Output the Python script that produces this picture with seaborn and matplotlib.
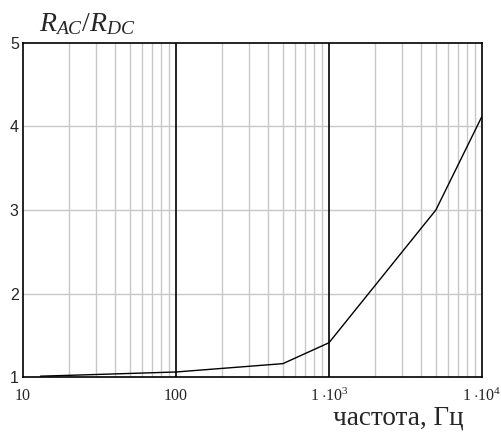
import numpy as np
import pandas as pd
import matplotlib
matplotlib.use("Agg")
import matplotlib.pyplot as plt
import seaborn as sns
from matplotlib.ticker import FixedLocator, FixedFormatter, NullFormatter

# frequency (Hz) and R_AC/R_DC
freq = [13, 20, 100, 500, 1000, 5000, 10000]
ratio = [1.01, 1.02, 1.06, 1.16, 1.41, 3.0, 4.12]
xticks = [10, 100, 1000, 10000]
xtick_labels = ["10", "100", r"$1\;{\cdot}10^{3}$", r"$1\;{\cdot}10^{4}$"]
yticks = [1, 2, 3, 4, 5]

df = pd.DataFrame({"f": freq, "r": ratio})

sns.set_style("white")
plt.rcParams["font.family"] = ["Liberation Serif", "DejaVu Serif"]
plt.rcParams["mathtext.fontset"] = "custom"
plt.rcParams["mathtext.rm"] = "Liberation Serif"
plt.rcParams["mathtext.it"] = "Liberation Serif:italic"

fig = plt.figure(figsize=(5.02, 4.32), dpi=100)
ax = fig.add_axes([0.0458, 0.1273, 0.9142, 0.7732])

ax.set_xscale("log")
ax.set_xlim(10, 10000)
ax.set_ylim(1, 5)

# grid: grey minor verticals, black decades, grey horizontals
minor = [m * 10 ** d for d in range(1, 4) for m in range(2, 10)]
for x in minor:
    ax.axvline(x, color="#c8c8c8", lw=1, zorder=1)
for x in [100, 1000]:
    ax.axvline(x, color="black", lw=1.2, zorder=2)
for y in [2, 3, 4]:
    ax.axhline(y, color="#c8c8c8", lw=1, zorder=1)

sns.lineplot(data=df, x="f", y="r", ax=ax, color="black", lw=1, zorder=3)

ax.xaxis.set_major_locator(FixedLocator(xticks))
ax.xaxis.set_major_formatter(FixedFormatter(xtick_labels))
ax.xaxis.set_minor_formatter(NullFormatter())
ax.set_yticks(yticks)
ax.set_yticklabels([str(v) for v in yticks], family="Liberation Sans")
ax.tick_params(axis="both", which="both", length=0, labelsize=11.5)
ax.tick_params(axis="x", pad=8)
ax.tick_params(axis="y", pad=3)

ax.set_xlabel("")
ax.set_ylabel("")
for s in ax.spines.values():
    s.set_color("black")
    s.set_linewidth(1.2)

fig.text(0.078, 0.915, r"$R_{AC}/R_{DC}$", fontsize=20, ha="left", va="bottom")
fig.text(0.923, 0.004, "частота, Гц", fontsize=19.5, ha="right", va="bottom")

fig.savefig("out.png", dpi=100)
